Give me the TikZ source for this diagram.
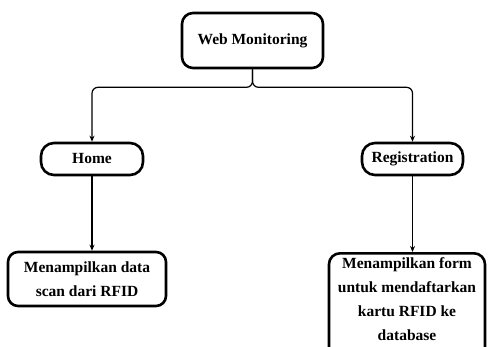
\documentclass[tikz,border=0pt]{standalone}
\usepackage{fontspec}
\setmainfont{Liberation Serif}
\usetikzlibrary{arrows.meta}
\begin{document}
\begin{tikzpicture}[x=1pt,y=-1pt,
  box/.style={draw=black, line width=2.6pt, rounded corners=11pt, fill=white,
    font=\fontsize{15.5}{24}\selectfont\bfseries, align=center, inner sep=0pt},
  link/.style={line width=1.2pt, rounded corners=6pt, -{Stealth[length=6pt,width=5pt]}}]
\useasboundingbox (0,0) rectangle (489,347);
\node[box, minimum width=141pt, minimum height=55pt] (web) at (252.5,40.5) {Web Monitoring};
\node[box, minimum width=102pt, minimum height=32pt, rounded corners=13pt] (home) at (92,159) {Home};
\node[box, minimum width=101pt, minimum height=32pt, rounded corners=13pt] (reg) at (412.5,159) {Registration};
\node[box, minimum width=158pt, minimum height=54pt, rounded corners=10pt] (scan) at (87,279)
  {Menampilkan data\\scan dari RFID};
\node[box, minimum width=156pt, anchor=north, inner ysep=4pt] (form) at (407,252)
  {Menampilkan form\\untuk mendaftarkan\\kartu RFID ke\\database\\[2pt]};
% junction point below the top box (canvas y points up, so shift down)
\coordinate (split) at ([yshift=-18pt]web.south);
\draw[link] (web.south) -- (split) -| (home.north);
\draw[link] (web.south) -- (split) -| (reg.north);
\draw[link] (home.south) -- (home.south |- scan.north);
\draw[link] (reg.south) -- (reg.south |- form.north);
\end{tikzpicture}
\end{document}
